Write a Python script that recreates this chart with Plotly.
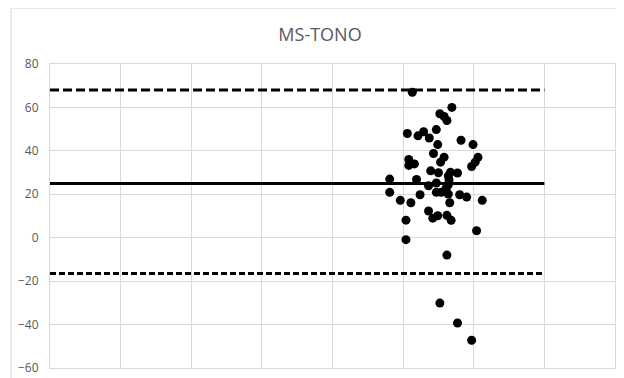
import plotly.graph_objects as go

# Bland-Altman style data
x_vals = [5.13, 5.69, 5.52, 5.58, 5.62, 5.06, 5.21, 5.29, 5.37, 5.47,
          5.82, 5.99, 5.49, 5.43, 5.08, 5.08, 5.16, 5.58, 5.53, 5.39,
          5.50, 5.67, 5.77, 6.06, 6.02, 5.97, 4.81, 4.81, 5.19, 5.36,
          5.47, 5.65, 5.64, 5.61, 5.24, 5.47, 5.54, 5.64, 5.80, 5.90,
          4.96, 5.11, 5.66, 6.12, 5.36, 5.42, 5.49, 5.62, 5.68, 5.04,
          6.04, 5.04, 5.62, 5.52, 5.77, 5.97, 5.64]
y_vals = [67.0, 60.0, 57.1, 55.8, 54.0, 48.0, 46.9, 48.8, 45.9, 49.8,
          44.9, 42.9, 42.9, 38.8, 36.0, 33.3, 34.0, 37.1, 34.8, 30.8,
          29.9, 30.1, 29.8, 37.0, 34.8, 32.8, 27.0, 20.9, 26.8, 23.9,
          25.2, 26.7, 24.4, 22.9, 19.8, 20.9, 20.9, 20.1, 19.8, 18.7,
          17.2, 16.1, 16.1, 17.2, 12.3, 9.0, 10.1, 10.3, 8.0, 8.1,
          3.2, -0.9, -8.0, -30.1, -39.3, -47.2, 28.5]

line_x = [0, 7]
mean_diff = 25
upper_loa = 68
lower_loa = -16.5

title_text = "MS-TONO"
y_ticks = [-60, -40, -20, 0, 20, 40, 60, 80]

fig = go.Figure()

fig.add_trace(go.Scatter(x=line_x, y=[upper_loa, upper_loa], mode="lines",
                         line=dict(color="black", width=3, dash="9px,4px"),
                         hoverinfo="skip", showlegend=False))
fig.add_trace(go.Scatter(x=line_x, y=[mean_diff, mean_diff], mode="lines",
                         line=dict(color="black", width=3),
                         hoverinfo="skip", showlegend=False))
fig.add_trace(go.Scatter(x=line_x, y=[lower_loa, lower_loa], mode="lines",
                         line=dict(color="black", width=3, dash="6px,3px"),
                         hoverinfo="skip", showlegend=False))
fig.add_trace(go.Scatter(x=x_vals, y=y_vals, mode="markers",
                         marker=dict(color="black", size=9, line=dict(width=0)),
                         showlegend=False))

grid = "#d9d9d9"
fig.update_layout(
    width=624, height=378,
    margin=dict(l=42, r=17, t=56, b=18, autoexpand=False),
    paper_bgcolor="white", plot_bgcolor="white",
    font=dict(family="Open Sans", color="#595959"),
    title=dict(text=title_text, x=0.5, xanchor="center", y=0.929, yanchor="middle",
               font=dict(family="Open Sans", size=18, color="#595959"),
               automargin=False),
    xaxis=dict(range=[0, 8], dtick=1, tick0=0, showticklabels=False, automargin=False,
               showgrid=True, gridcolor=grid, gridwidth=1, zeroline=False,
               showline=True, linecolor=grid, linewidth=1, mirror=True, ticks=""),
    yaxis=dict(range=[-60, 80], tickvals=y_ticks, showgrid=True, gridcolor=grid,
               gridwidth=1, zeroline=False, showline=True, linecolor=grid,
               linewidth=1, mirror=True, ticks="outside", ticklen=8, automargin=False,
               tickcolor="rgba(0,0,0,0)", tickfont=dict(size=12, color="#595959")),
    shapes=[
        dict(type="line", xref="paper", yref="paper", x0=-0.069, x1=-0.069,
             y0=-0.2, y1=1.184, line=dict(color=grid, width=1)),
        dict(type="line", xref="paper", yref="paper", x0=-0.069, x1=1.2,
             y0=1.184, y1=1.184, line=dict(color=grid, width=1)),
    ],
)

fig.write_html("out.html")
